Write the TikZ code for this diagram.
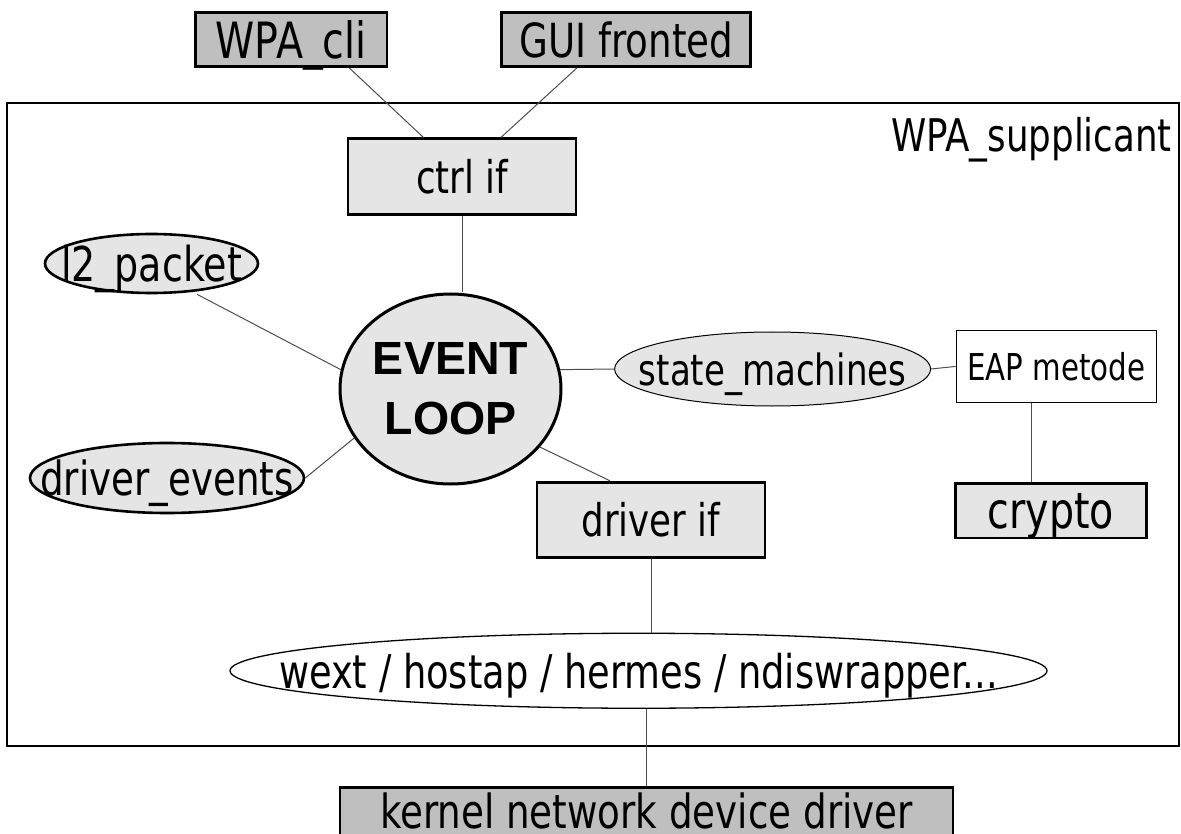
\documentclass[tikz,border=0pt]{standalone}
\usepackage{fontspec}
\setmainfont{DejaVu Sans Condensed}[FakeStretch=0.88]
\newfontfamily\loopfont{Liberation Sans}
\usetikzlibrary{shapes.geometric, positioning}
\definecolor{BoxDark}{gray}{0.75}
\definecolor{BoxLight}{gray}{0.9}
\definecolor{LinkGray}{gray}{0.3}
\newcommand{\pxsize}[1]{\fontsize{#1}{#1}\selectfont}
\tikzstyle{darkbox} = [rectangle, text centered, inner sep=0pt, draw=black, line width=2.8pt, fill=BoxDark]
\tikzstyle{lightbox} = [rectangle, text centered, inner sep=0pt, draw=black, line width=2.8pt, fill=BoxLight]
\tikzstyle{plainbox} = [rectangle, text centered, inner sep=0pt, draw=black, line width=1pt, fill=white]
\tikzstyle{oval} = [ellipse, inner sep=0pt, draw=black, line width=2.6pt, fill=BoxLight]
\tikzstyle{link} = [line width=1pt, draw=LinkGray]

\begin{document}
\begin{tikzpicture}[x=1pt, y=-1pt, every label/.style={text depth=0pt}]
  \useasboundingbox (0,0) rectangle (1181,834);
  \draw [line width=1.5pt] (7,103) rectangle (1179,746);
  \node (supplabel) [anchor=base east, inner sep=0pt, font=\pxsize{45}] at (1172,152) {WPA\_supplicant};

  \node (eventloop) [oval, line width=3pt, minimum width=221pt, minimum height=190pt, align=center, font=\loopfont\bfseries\fontsize{46.5}{60}\selectfont] at (450.5,389) {EVENT\\LOOP};
  \node (ctrlif) [lightbox, above=76.3pt of eventloop, xshift=11.5pt, minimum width=228pt, minimum height=76pt, font=\pxsize{45}] {ctrl if};
  \node (wpacli) [darkbox, text depth=0pt, minimum width=191.5pt, minimum height=54pt, font=\pxsize{50}] at (291.2,39.7) {WPA\_cli};
  \node (guifront) [darkbox, right=112pt of wpacli, minimum width=249pt, minimum height=54pt, font=\pxsize{47}] {GUI fronted};

  \node (l2packet) [oval, minimum width=213pt, minimum height=59pt, label={[font=\pxsize{48}]center:l2\_packet}] at (151.5,263.5) {};
  \node (driverevents) [oval, minimum width=274pt, minimum height=70pt, label={[font=\pxsize{47}]center:driver\_events}] at (167,478) {};
  \node (statemach) [oval, line width=1pt, right=51.6pt of eventloop, yshift=20pt, minimum width=316pt, minimum height=74pt, label={[font=\pxsize{43}]center:state\_machines}] {};
  \node (eapmetode) [plainbox, right=24.6pt of statemach, yshift=2.6pt, minimum width=200pt, minimum height=72.7pt, font=\pxsize{37}] {EAP metode};
  \node (crypto) [lightbox, text depth=0pt, below=79pt of eapmetode, xshift=-5.3pt, minimum width=191.4pt, minimum height=54.3pt, font=\pxsize{50}] {crypto};

  \node (driverif) [lightbox, minimum width=228pt, minimum height=75.6pt, font=\pxsize{45}] at (651,520) {driver if};
  \node (wext) [oval, fill=white, line width=1.3pt, below=73.4pt of driverif, xshift=-12.5pt, minimum width=817pt, minimum height=75pt, label={[font=\pxsize{46.5}]center:wext / hostap / hermes / ndiswrapper...}] {};
  \node (kernel) [darkbox, below=77pt of wext, xshift=8pt, minimum width=613pt, minimum height=48pt, font=\pxsize{47}] {kernel network device driver};

  \draw [link] ([xshift=58.2pt]wpacli.south) -- ([xshift=-38.6pt]ctrlif.north);
  \draw [link] ([xshift=-49.5pt]guifront.south) -- ([xshift=39pt]ctrlif.north);
  \draw [link] (ctrlif.south) -- (ctrlif.south |- eventloop.north);
  \draw [link] ([xshift=45.5pt]l2packet.south) -- (eventloop.170);
  \draw [link] (driverevents.east) -- (eventloop.207);
  \draw [link] (eventloop.10) -- (statemach.west);
  \draw [link] (statemach.east) -- (eapmetode.west);
  \draw [link] ([xshift=-24.6pt]eapmetode.south) -- ([xshift=-19.3pt]crypto.north);
  \draw [link] (eventloop.-33) -- ([xshift=-41pt]driverif.north);
  \draw [link] (driverif.south) -- (driverif.south |- wext.north);
  \draw [link] (wext.south -| kernel.north) -- (kernel.north);

\end{tikzpicture}
\end{document}
